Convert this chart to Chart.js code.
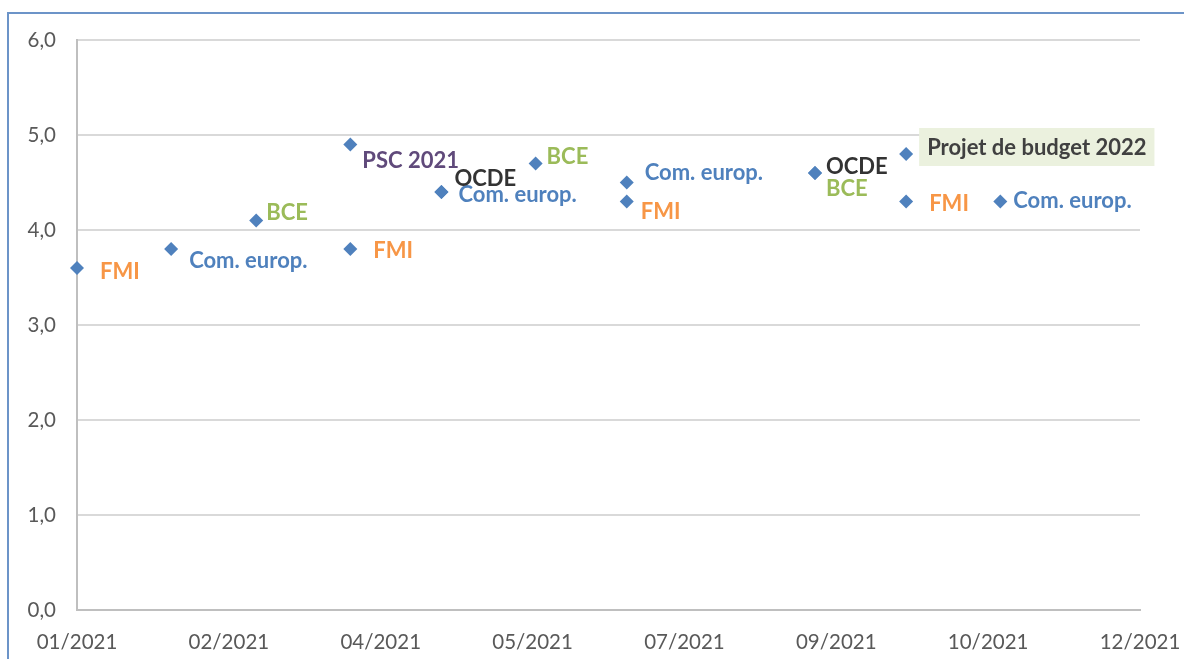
<!DOCTYPE html>
<html>
<head>
<meta charset="utf-8">
<script src="https://cdn.jsdelivr.net/npm/chart.js@4/dist/chart.umd.min.js"></script>
<style>
  html, body { margin: 0; padding: 0; background: #fff; }
  #wrap { position: relative; width: 1184px; height: 659px; overflow: hidden; }
  #frame { position: absolute; left: 7px; top: 12px; width: 1300px; height: 800px;
           border-left: 2px solid #6C94C8; border-top: 2px solid #6C94C8; }
  canvas { position: absolute; left: 0; top: 0; }
</style>
</head>
<body>
<div id="wrap">
  <div id="frame"></div>
  <canvas id="c" width="1184" height="659"></canvas>
</div>
<script>
// ---- Data ----
const dates = ['2021-01-01','2021-02-01','2021-03-01','2021-04-01','2021-04-01','2021-05-01','2021-05-01',
               '2021-06-01','2021-07-01','2021-07-01','2021-09-01','2021-09-01','2021-10-01','2021-10-01','2021-11-01'];
const values = [3.6, 3.8, 4.1, 4.9, 3.8, 4.4, 4.4, 4.7, 4.5, 4.3, 4.6, 4.6, 4.8, 4.3, 4.3];
const sources = ['FMI','Com. europ.','BCE','PSC 2021','FMI','Com. europ.','OCDE',
                 'BCE','Com. europ.','FMI','OCDE','BCE','Projet de budget 2022','FMI','Com. europ.'];
const yTicks = [0, 1, 2, 3, 4, 5, 6];
const xMinDay = 0, xMaxDay = 350, xStepDays = 50;

// ---- Styles ----
const sourceColors = {
  'FMI': '#F79646', 'Com. europ.': '#4F81BD', 'BCE': '#9BBB59',
  'PSC 2021': '#604A7B', 'OCDE': '#333333', 'Projet de budget 2022': '#404040'
};
const labelOffsets = [[23,3],[18,11],[10,-9],[12,15],[23,1],[17,2],[13,-14],
                      [11,-8],[18,-11],[14,9],[11,-7],[11,15],[21,-7],[23,1],[13,-2]];
const boxedLabels = {'Projet de budget 2022': '#EBF1DE'};
const LABEL_FONT = 'bold 22px Lato';

const base = new Date(Date.UTC(2021, 0, 1));
function dayOf(s) { return Math.round((Date.parse(s + 'T00:00:00Z') - base.getTime()) / 86400000); }
function fmtDay(d) {
  const dt = new Date(base.getTime() + d * 86400000);
  const m = dt.getUTCMonth() + 1;
  return (m < 10 ? '0' : '') + m + '/' + dt.getUTCFullYear();
}

const points = dates.map((d, i) => ({ x: dayOf(d), y: values[i] }));

const labelPlugin = {
  id: 'pointLabels',
  afterDatasetsDraw(chart) {
    const ctx = chart.ctx;
    const meta = chart.getDatasetMeta(0);
    ctx.save();
    ctx.font = LABEL_FONT;
    ctx.textBaseline = 'middle';
    ctx.textAlign = 'left';
    meta.data.forEach((el, i) => {
      const txt = sources[i];
      const [dx, dy] = labelOffsets[i];
      const x = el.x + dx, y = el.y + dy;
      if (boxedLabels[txt]) {
        const w = ctx.measureText(txt).width;
        ctx.fillStyle = boxedLabels[txt];
        ctx.fillRect(x - 8, y - 19, w + 16, 38);
      }
      ctx.fillStyle = sourceColors[txt];
      ctx.fillText(txt, x, y + 1);
    });
    ctx.restore();
  }
};

new Chart(document.getElementById('c'), {
  type: 'scatter',
  data: {
    datasets: [{
      data: points,
      clip: false,
      pointStyle: 'rectRot',
      pointRadius: 7,
      pointHoverRadius: 7,
      backgroundColor: '#4F81BD',
      borderColor: '#4F81BD',
      borderWidth: 0
    }]
  },
  options: {
    responsive: false,
    animation: false,
    events: [],
    layout: { padding: { left: 0, right: 44, top: 40, bottom: 0 } },
    plugins: { legend: { display: false }, tooltip: { enabled: false } },
    scales: {
      x: {
        type: 'linear',
        min: xMinDay, max: xMaxDay,
        afterBuildTicks(scale) {
          const t = [];
          for (let v = xMinDay; v <= xMaxDay; v += xStepDays) t.push({ value: v });
          scale.ticks = t;
        },
        afterFit(scale) { scale.height = 49; scale.paddingLeft = 0; scale.paddingRight = 0; },
        grid: { display: false, drawTicks: false },
        border: { display: true, color: '#BFBFBF', width: 2 },
        ticks: {
          padding: 20, maxRotation: 0, autoSkip: false,
          color: '#595959', font: { family: 'Lato', size: 20.5 },
          callback: (v) => fmtDay(v)
        }
      },
      y: {
        min: 0, max: 6,
        afterBuildTicks(scale) { scale.ticks = yTicks.map(v => ({ value: v })); },
        afterFit(scale) { scale.width = 77; scale.paddingTop = 0; scale.paddingBottom = 0; },
        grid: { color: '#D9D9D9', lineWidth: 2, drawTicks: false },
        border: { display: true, color: '#BFBFBF', width: 2 },
        ticks: {
          padding: 21,
          color: '#595959', font: { family: 'Lato', size: 20.5 },
          callback: (v) => v.toFixed(1).replace('.', ',')
        }
      }
    }
  },
  plugins: [labelPlugin]
});
</script>
</body>
</html>
